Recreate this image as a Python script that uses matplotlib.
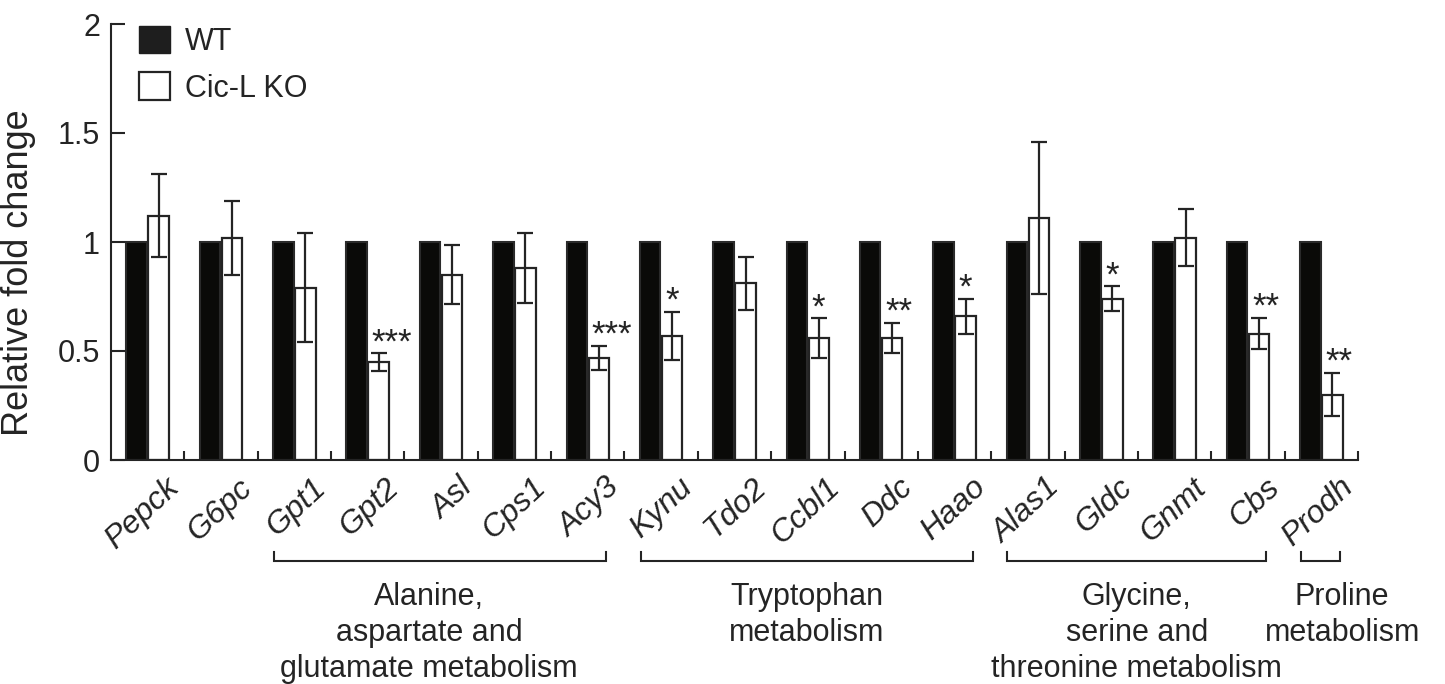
import matplotlib.pyplot as plt
import numpy as np
from matplotlib.patches import Patch
from matplotlib.transforms import ScaledTranslation

plt.rcParams['font.family'] = ['Liberation Sans', 'DejaVu Sans']

# data
genes = ['Pepck', 'G6pc', 'Gpt1', 'Gpt2', 'Asl', 'Cps1', 'Acy3', 'Kynu', 'Tdo2',
         'Ccbl1', 'Ddc', 'Haao', 'Alas1', 'Gldc', 'Gnmt', 'Cbs', 'Prodh']
wt = [1.0] * 17
ko = [1.12, 1.02, 0.79, 0.45, 0.85, 0.88, 0.47, 0.57, 0.81,
      0.56, 0.56, 0.66, 1.11, 0.74, 1.02, 0.58, 0.30]
ko_err = [0.19, 0.17, 0.25, 0.04, 0.135, 0.16, 0.055, 0.11, 0.12,
          0.09, 0.07, 0.08, 0.35, 0.058, 0.13, 0.073, 0.10]
stars = ['', '', '', '***', '', '', '***', '*', '',
         '*', '**', '*', '', '*', '', '**', '**']
group_names = ['Alanine,\naspartate and\nglutamate metabolism',
               'Tryptophan\nmetabolism',
               'Glycine,\nserine and\nthreonine metabolism',
               'Proline\nmetabolism']
group_first = [2, 7, 12, 16]
group_last = [6, 11, 15, 16]
group_text_shift = [-0.15, 0.0, 0.0, 0.3]

ink = '#242424'

fig = plt.figure(figsize=(14.45, 6.84), dpi=100)
ax = fig.add_axes([111 / 1445, 1 - 460 / 684, 1247 / 1445, 436 / 684])

x = np.arange(len(genes))
w = 0.28
ax.bar(x - 0.15, wt, w, color='#0a0a08', edgecolor='#2a2a2a', linewidth=1.5)
ax.bar(x + 0.15, ko, w, color='white', edgecolor=ink, linewidth=1.6)
ax.errorbar(x + 0.15, ko, yerr=ko_err, fmt='none', ecolor=ink,
            elinewidth=1.6, capsize=6, capthick=1.6)

for i, s in enumerate(stars):
    if s:
        ax.annotate(s, (x[i] + 0.15, ko[i] + ko_err[i]), xytext=(-5, -4.5),
                    textcoords='offset points', ha='left', va='bottom',
                    fontsize=25, color=ink)

ax.set_xlim(-0.5, 16.5)
ax.set_ylim(0, 2)
ax.set_yticks([0, 0.5, 1, 1.5, 2])
ax.set_yticklabels(['0', '0.5', '1', '1.5', '2'])
ax.tick_params(axis='y', direction='in', length=10, width=1.5, labelsize=22,
               pad=8, color=ink, labelcolor=ink)

ax.set_xticks(x)
ax.set_xticklabels(genes, rotation=43, ha='right', rotation_mode='anchor',
                   fontstyle='italic', fontsize=23, color=ink)
ax.tick_params(axis='x', which='major', length=0, pad=9)
ax.set_xticks(np.arange(0.5, 17, 1), minor=True)
ax.tick_params(axis='x', which='minor', direction='in', length=6.5, width=1.5,
               color=ink)
for lab in ax.get_xticklabels():
    lab.set_transform(lab.get_transform() +
                      ScaledTranslation(0.17, 0, fig.dpi_scale_trans))

for side in ['top', 'right']:
    ax.spines[side].set_visible(False)
for side in ['left', 'bottom']:
    ax.spines[side].set_linewidth(1.5)
    ax.spines[side].set_color(ink)

# pathway brackets under the gene names
yb, yt = -0.462, -0.422
base, step = -0.665, 0.165
for name, a, b, dx in zip(group_names, group_first, group_last, group_text_shift):
    x0, x1 = a - 0.28, b + 0.25
    ax.plot([x0, x0, x1, x1], [yt, yb, yb, yt], color=ink, lw=1.5,
            clip_on=False, solid_joinstyle='miter')
    for j, line in enumerate(name.split('\n')):
        ax.text((x0 + x1) / 2 + dx, base - j * step, line, ha='center',
                va='baseline', fontsize=22, color=ink)

handles = [Patch(facecolor='#1e1e1e', edgecolor='#1e1e1e', label='WT'),
           Patch(facecolor='white', edgecolor=ink, linewidth=1.6, label='Cic-L KO')]
ax.legend(handles=handles, loc='upper left', bbox_to_anchor=(28 / 1247, 1 - 2 / 436),
          frameon=False, fontsize=22, handlelength=1.0, handleheight=1.0,
          handletextpad=0.5, labelspacing=0.5, borderpad=0, borderaxespad=0,
          labelcolor=ink)

ax.set_ylabel('Relative fold change', fontsize=26, color=ink)
ax.yaxis.set_label_coords(-0.060, 0.43)

fig.savefig('out.png', dpi=100)
